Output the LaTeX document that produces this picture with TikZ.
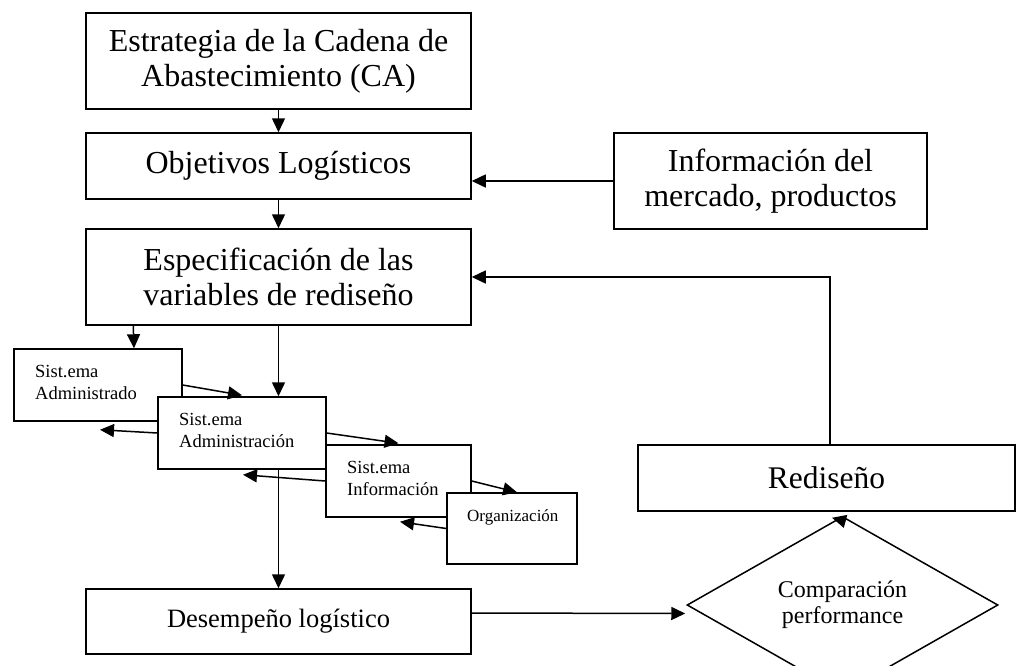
\documentclass[tikz,border=0pt]{standalone}
\usepackage{fontspec}
\setmainfont{Liberation Serif}
\usetikzlibrary{arrows.meta,shapes.geometric,calc}
\begin{document}
\begin{tikzpicture}[x=1pt,y=-1pt,
  box/.style={draw, fill=white, line width=1.5pt, inner sep=0pt, align=center},
  big/.style={font=\fontsize{32}{35}\selectfont},
  small/.style={font=\fontsize{18.5}{21.5}\selectfont, inner sep=0pt, anchor=base west, align=left},
  arr/.style={line width=1.5pt, -{Triangle[length=14pt,width=13pt]}}]
\useasboundingbox (0,0) rectangle (1019,665);
\clip (0,0) rectangle (1019,665);
% main column
\node[box,big,minimum width=385pt,minimum height=96pt] (strat) at (278.5,61)
  {Estrategia de la Cadena de\\Abastecimiento (CA)};
\node[box,big,minimum width=385pt,minimum height=66pt] (obj) at (278.5,166)
  {Objetivos Logísticos};
\node[box,big,minimum width=385pt,minimum height=96pt] (spec) at (278.5,277)
  {Especificación de las\\variables de rediseño};
\node[box,big,minimum width=313pt,minimum height=96pt] (info) at (770.5,181)
  {Información del\\mercado, productos};
% small boxes
\node[box,minimum width=168pt,minimum height=72pt] (adm1) at (98,385) {};
\node[small] (adm1t) at (35,399) {Sist.ema\\Administrado};
\node[box,minimum width=168pt,minimum height=72pt] (adm2) at (242,433) {};
\node[small] (adm2t) at (179,447) {Sist.ema\\Administración};
\node[box,minimum width=145pt,minimum height=72pt] (infs) at (398.5,481) {};
\node[small] (infst) at (347,495) {Sist.ema\\Información};
\node[box,minimum width=130pt,minimum height=71pt] (org) at (512,528.5) {};
\node[small,font=\fontsize{17}{20}\selectfont] (orgt) at (467,521) {Organización};
% bottom
\node[box,font=\fontsize{26.5}{30}\selectfont,minimum width=385pt,minimum height=65pt] (des) at (278.5,621.5)
  {Desempeño logístico};
\node[box,font=\fontsize{31.5}{35}\selectfont,minimum width=377pt,minimum height=66pt] (red) at (826.5,478)
  {Rediseño};
\node[draw, diamond, line width=1.5pt, inner sep=0pt, minimum width=311pt, minimum height=126pt,
  align=center, font=\fontsize{24}{26}\selectfont] (dia) at (842.5,605)
  {Comparación\\performance};
% connectors
\draw[arr] (strat.south) -- (obj.north);
\draw[arr] (obj.south) -- (spec.north);
\draw[arr] (info.west) -- (info.west -| obj.east);
\draw[arr] ([xshift=3.5pt]red.north) |- (spec.east);
\draw[arr] ([xshift=48pt]spec.south west) -- ([xshift=36pt]adm1.north);
\draw[arr] (spec.south) -- (spec.south |- adm2.north);
\draw[arr] (adm1.east) -- ([yshift=1pt]adm2.north);
\draw[arr] (adm2.west) -- ([shift={(2pt,-8pt)}]adm1.south);
\draw[arr] (adm2.east) -- ([yshift=1pt]infs.north);
\draw[arr] (infs.west) -- ([shift={(1pt,-5pt)}]adm2.south);
\draw[arr] (infs.east) -- ([xshift=5pt]org.north);
\draw[arr] (org.west) -- ([shift={(1.5pt,-4pt)}]infs.south);
\draw[arr] (des.north |- adm2.south) -- (des.north);
\draw[arr] ([yshift=8.5pt]des.east) -- ([shift={(-1pt,-8.5pt)}]dia.west);
\draw[arr] ([shift={(0.5pt,-5pt)}]dia.north) -- ([shift={(5.5pt,-6pt)}]red.south);
\end{tikzpicture}
\end{document}
